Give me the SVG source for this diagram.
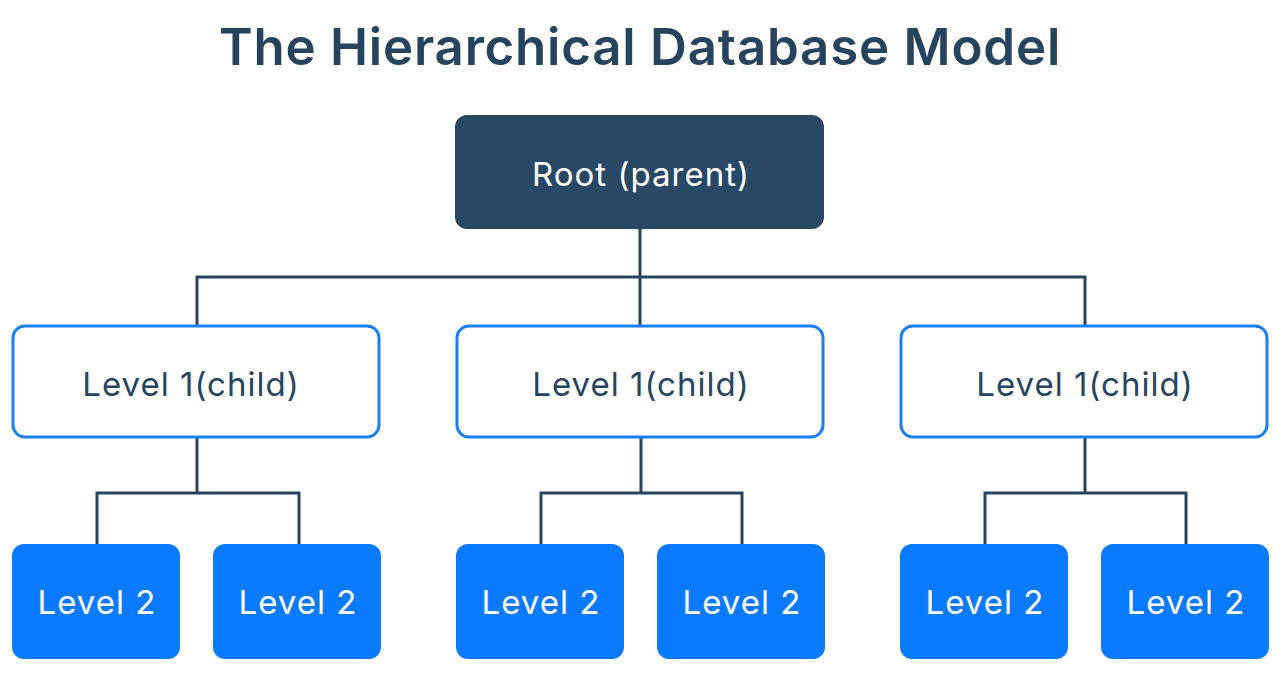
<svg xmlns="http://www.w3.org/2000/svg" width="1280" height="679" viewBox="0 0 1280 679">
<style>
.title{font-family:Inter,"Liberation Sans",sans-serif;font-weight:600;font-size:51px;letter-spacing:0.8px;fill:#27445f}
.t{font-family:Inter,"Liberation Sans",sans-serif;font-size:33px;letter-spacing:1px;text-anchor:middle;dominant-baseline:central}
.root{fill:#284866}
.l1{fill:#fff;stroke:#1a80f0;stroke-width:3}
.l2{fill:#0a7bff}
.w{fill:#fff}
.d{fill:#27445f}
.c{fill:none;stroke:#27445f;stroke-width:3}
</style>
<rect width="1280" height="679" fill="#fff"/>
<text class="title" x="640" y="65" text-anchor="middle">The Hierarchical Database Model</text>
<g id="connectors">
<path class="c" d="M640 229V277M197 326V277H1085V326M640 277V326"/>
<path class="c" d="M197 437V493M97 544V493H299V544"/>
<path class="c" d="M641 437V493M541 544V493H742V544"/>
<path class="c" d="M1085 437V493M985 544V493H1186V544"/>
</g>
<g id="root"><rect class="root" x="455" y="115" width="369" height="114" rx="12"/><text class="t w" x="641" y="174">Root (parent)</text></g>
<g id="l1a"><rect class="l1" x="13" y="326" width="366" height="111" rx="12"/><text class="t d" x="191" y="384">Level 1(child)</text></g>
<g id="l1b"><rect class="l1" x="457" y="326" width="366" height="111" rx="12"/><text class="t d" x="641" y="384">Level 1(child)</text></g>
<g id="l1c"><rect class="l1" x="901" y="326" width="366" height="111" rx="12"/><text class="t d" x="1085" y="384">Level 1(child)</text></g>
<g id="l2a"><rect class="l2" x="12" y="544" width="168" height="115" rx="12"/><text class="t w" x="97" y="602">Level 2</text></g>
<g id="l2b"><rect class="l2" x="213" y="544" width="168" height="115" rx="12"/><text class="t w" x="298" y="602">Level 2</text></g>
<g id="l2c"><rect class="l2" x="456" y="544" width="168" height="115" rx="12"/><text class="t w" x="541" y="602">Level 2</text></g>
<g id="l2d"><rect class="l2" x="657" y="544" width="168" height="115" rx="12"/><text class="t w" x="742" y="602">Level 2</text></g>
<g id="l2e"><rect class="l2" x="900" y="544" width="168" height="115" rx="12"/><text class="t w" x="985" y="602">Level 2</text></g>
<g id="l2f"><rect class="l2" x="1101" y="544" width="168" height="115" rx="12"/><text class="t w" x="1186" y="602">Level 2</text></g>
</svg>
